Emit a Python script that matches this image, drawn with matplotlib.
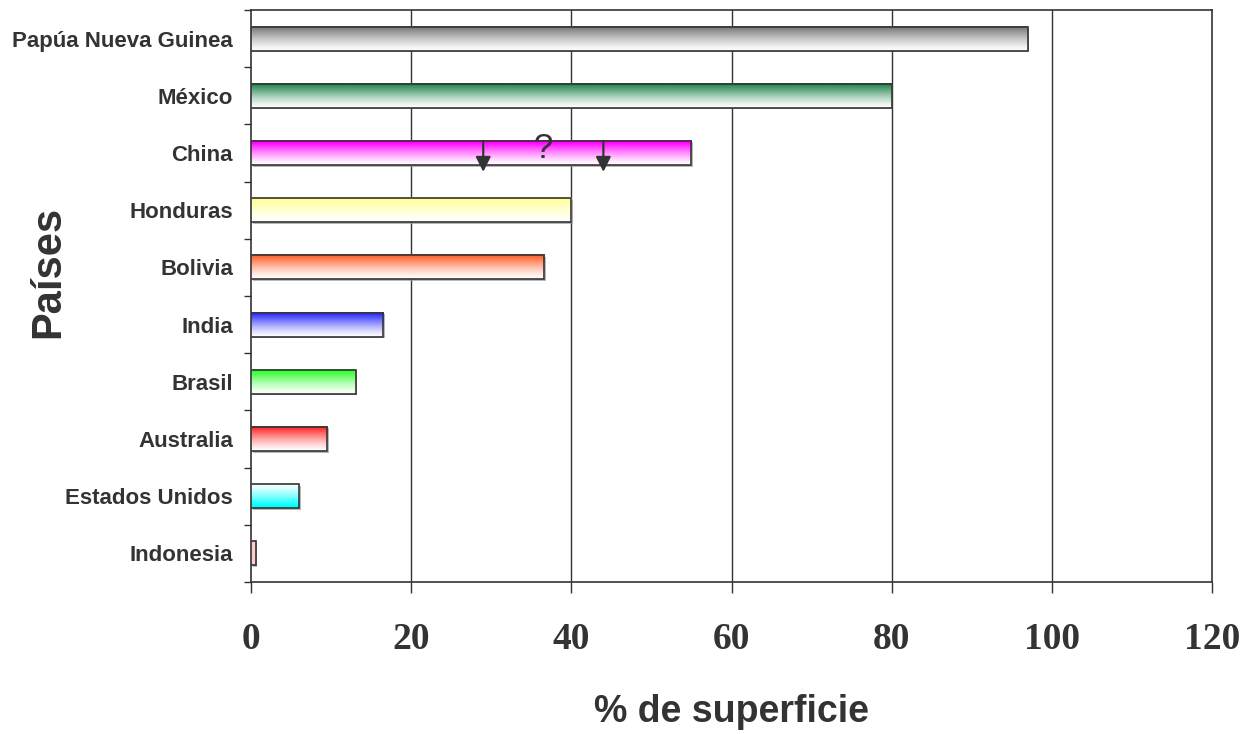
import matplotlib
matplotlib.use("Agg")
import matplotlib.pyplot as plt
import numpy as np
from matplotlib.colors import to_rgb
from matplotlib.patches import Rectangle
from matplotlib.transforms import ScaledTranslation

# Data (listed top to bottom as displayed)
countries = ["Papúa Nueva Guinea", "México", "China", "Honduras", "Bolivia",
             "India", "Brasil", "Australia", "Estados Unidos", "Indonesia"]
values = [97, 80, 55, 40, 36.6, 16.5, 13.1, 9.5, 6, 0.6]
bar_colors = ["#808080", "#2E8B57", "#FF00FF", "#FFFF99", "#FF6633",
              "#3333FF", "#33FF33", "#FF3333", "#00FFFF", "#FFCCCC"]
# gradient direction: "down" = colour on top fading to white, "up" = reverse, "flat" = solid
gradients = ["down", "down", "down", "down", "down",
             "down", "down", "down", "up", "flat"]
x_ticks = [0, 20, 40, 60, 80, 100, 120]
china_arrows = [29, 44]
china_question_x = 36.5

DARK = "#333333"

fig = plt.figure(figsize=(12.47, 7.34), dpi=100)
ax = fig.add_axes([251 / 1247, 1 - 582 / 734, (1212 - 251) / 1247, (582 - 10) / 734])

n = len(countries)
ypos = np.arange(n)[::-1]  # first country at the top
bar_h = 0.42

ax.set_xlim(0, 120)
ax.set_ylim(-0.5, n - 0.5)

# vertical gridlines behind bars
for xv in x_ticks[1:-1]:
    ax.axvline(xv, color=DARK, lw=1.0, zorder=1)

shadow_offset = ScaledTranslation(1.5 / 100, -1.5 / 100, fig.dpi_scale_trans)
for y, v, c, g in zip(ypos, values, bar_colors, gradients):
    x0, x1 = 0, v
    y0, y1 = y - bar_h / 2, y + bar_h / 2
    # soft shadow
    ax.add_patch(Rectangle((x0, y0), v, bar_h, facecolor="#999999", edgecolor="none",
                           alpha=0.7, zorder=2, transform=ax.transData + shadow_offset,
                           clip_on=False))
    rgb = np.array(to_rgb(c))
    t = np.linspace(0, 1, 64)[:, None]  # 0 = bottom row, 1 = top row
    if g == "down":
        w = np.clip(t * 1.1, 0, 1) ** 1.3
    elif g == "up":
        w = np.clip((1 - t) * 1.1, 0, 1) ** 1.3
    else:
        w = np.ones_like(t)
    img = (1 - w)[:, :, None] * np.ones(3) + w[:, :, None] * rgb
    img = np.repeat(img, 2, axis=1)
    ax.imshow(img, extent=(x0, x1, y0, y1), origin="lower", aspect="auto",
              interpolation="bilinear", zorder=3)
    ax.add_patch(Rectangle((x0, y0), v, bar_h, facecolor="none", edgecolor=DARK,
                           lw=1.2, zorder=4))

ax.set_xlim(0, 120)
ax.set_ylim(-0.5, n - 0.5)

# China annotations
china_y = ypos[countries.index("China")]
for xa in china_arrows:
    ax.annotate("", xy=(xa, china_y - 0.33), xytext=(xa, china_y + bar_h / 2),
                arrowprops=dict(arrowstyle="-|>,head_length=0.9,head_width=0.45",
                                color=DARK, lw=1.6, shrinkA=0, shrinkB=0),
                zorder=6)
ax.text(china_question_x, china_y + 0.08, "?", fontsize=25, color=DARK,
        family="Liberation Sans", ha="center", va="center", zorder=6)

# axes styling
for s in ax.spines.values():
    s.set_color(DARK)
    s.set_linewidth(1.2)

ax.set_xticks(x_ticks)
ax.set_xticklabels([str(v) for v in x_ticks], family="Liberation Serif",
                   fontweight="bold", fontsize=27, color=DARK)
ax.tick_params(axis="x", direction="out", length=8, width=1.0, color=DARK, pad=21)

ax.set_yticks(ypos)
ax.set_yticklabels(countries, family="Liberation Sans", fontweight="bold",
                   fontsize=16, color=DARK)
ax.set_yticks(np.arange(-0.5, n, 1.0), minor=True)
ax.tick_params(axis="y", which="major", length=0, pad=13)
ax.tick_params(axis="y", which="minor", direction="out", length=5, width=1.0, color=DARK)

fig.text(731.5 / 1247, 1 - 712 / 734, "% de superficie", family="Liberation Sans",
         fontweight="bold", fontsize=27, color=DARK, ha="center", va="center")
fig.text(48 / 1247, 1 - 272 / 734, "Países", family="Liberation Sans",
         fontweight="bold", fontsize=30, color=DARK, ha="center", va="center",
         rotation=90)

fig.savefig("out.png", dpi=100, facecolor="white")
